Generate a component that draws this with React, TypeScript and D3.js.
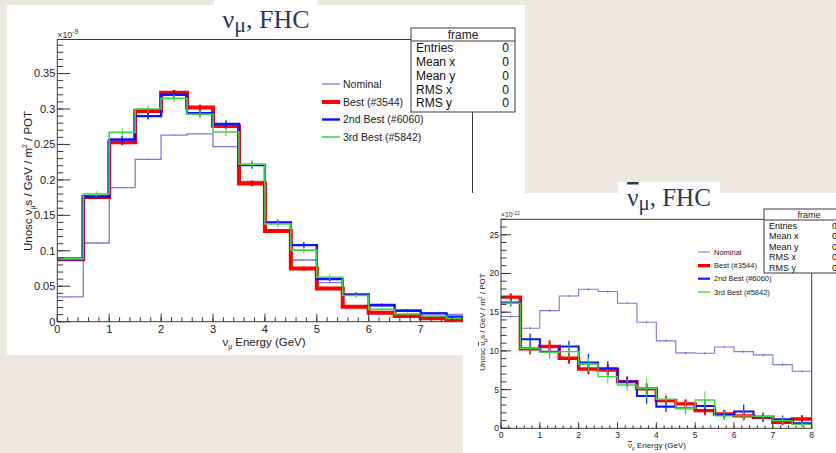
import React from 'react';
import * as d3 from 'd3';

// bin edges (GeV), shared by both plots
const binEdges = [0, 0.5, 1, 1.5, 2, 2.5, 3, 3.5, 4, 4.5, 5, 5.5, 6, 6.5, 7, 7.5, 8];

// numu FHC, units of 1e-9
const numuNominal = [0.035, 0.111, 0.189, 0.229, 0.263, 0.265, 0.247, 0.198, 0.14, 0.087, 0.055, 0.038, 0.022, 0.0165, 0.0127, 0.0104];
const numuBest = [0.088, 0.176, 0.253, 0.297, 0.323, 0.302, 0.276, 0.195, 0.128, 0.075, 0.047, 0.021, 0.0127, 0.008, 0.0047, 0.0033];
const numuBestErr = [0.002, 0.003, 0.004, 0.004, 0.004, 0.004, 0.004, 0.004, 0.003, 0.003, 0.002, 0.002, 0.001, 0.001, 0.001, 0.001];
const numu2nd = [0.088, 0.176, 0.257, 0.29, 0.32, 0.294, 0.279, 0.221, 0.14, 0.108, 0.06, 0.0386, 0.0236, 0.0155, 0.0118, 0.007];
const numu2ndErr = [0.002, 0.003, 0.005, 0.005, 0.005, 0.005, 0.005, 0.005, 0.004, 0.004, 0.003, 0.003, 0.002, 0.002, 0.001, 0.001];
const numu3rd = [0.0886, 0.18, 0.267, 0.3, 0.315, 0.2925, 0.2676, 0.222, 0.138, 0.101, 0.0627, 0.037, 0.0174, 0.0108, 0.008, 0.0047];
const numu3rdErr = [0.002, 0.004, 0.006, 0.006, 0.006, 0.006, 0.006, 0.006, 0.005, 0.005, 0.004, 0.003, 0.002, 0.002, 0.001, 0.001];
const numuNominalErr = [0.0005, 0.0008, 0.0008, 0.0008, 0.0008, 0.0008, 0.0008, 0.0008, 0.0008, 0.0008, 0.0006, 0.0005, 0.0004, 0.0004, 0.0003, 0.0003];

// anti-numu FHC, units of 1e-12
const anuNominal = [14.44, 12.93, 15.2, 17.1, 17.97, 17.67, 16.16, 13.7, 11.3, 9.74, 9.7, 10.5, 9.9, 9.48, 8.23, 7.37];
const anuNominalErr = [0.15, 0.15, 0.15, 0.15, 0.15, 0.15, 0.15, 0.15, 0.15, 0.15, 0.15, 0.15, 0.15, 0.15, 0.15, 0.15];
const anuBest = [16.94, 10.26, 10.56, 9.05, 7.67, 7.54, 6.03, 5.09, 3.58, 3.15, 2.28, 1.85, 1.6, 1.42, 0.78, 1.2];
const anuBestErr = [0.5, 0.7, 0.8, 0.7, 0.7, 0.7, 0.6, 0.7, 0.6, 0.6, 0.6, 0.5, 0.5, 0.5, 0.4, 0.5];
const anu2nd = [16.25, 11.5, 9.9, 10.56, 8.5, 7.76, 6.03, 4.18, 2.8, 2.59, 2.89, 1.72, 2.16, 1.42, 1.16, 0.65];
const anu2ndErr = [0.5, 0.75, 0.8, 0.75, 1.1, 0.9, 0.7, 1.0, 0.7, 0.7, 0.8, 0.6, 0.9, 0.6, 0.5, 0.4];
const anu3rd = [16.16, 10.34, 9.83, 9.9, 8.28, 6.68, 5.6, 5.17, 3.75, 2.59, 3.66, 1.6, 1.6, 1.5, 1.0, 0.5];
const anu3rdErr = [0.5, 0.7, 0.9, 0.9, 0.9, 0.9, 0.8, 1.3, 0.8, 0.8, 1.1, 0.6, 0.7, 0.6, 0.5, 0.4];

const legendLabels = ['Nominal', 'Best (#3544)', '2nd Best (#6060)', '3rd Best (#5842)'];
const statNames = ['Entries', 'Mean x', 'Mean y', 'RMS x', 'RMS y'];
const statValues = ['0', '0', '0', '0', '0'];

const numuYTicks = [0, 0.05, 0.1, 0.15, 0.2, 0.25, 0.3, 0.35];
const numuYLabels = ['0', '0.05', '0.1', '0.15', '0.2', '0.25', '0.3', '0.35'];
const numuXTicks = [0, 1, 2, 3, 4, 5, 6, 7];
const anuYTicks = [0, 5, 10, 15, 20, 25];
const anuXTicks = [0, 1, 2, 3, 4, 5, 6, 7, 8];

const BG = '#ece9e3';
const AX = '#3a3a3a';
const SANS = '"Liberation Sans", Arial, sans-serif';
const SERIF = '"Liberation Serif", "DejaVu Serif", serif';

// nu symbol, with an overline for the anti-neutrino
const Nu = ({ bar }) => (bar ? <tspan style={{ textDecoration: 'overline' }}>ν</tspan> : <tspan>ν</tspan>);

const Histo = ({ cfg }) => {
  const x = d3.scaleLinear().domain([0, 8]).range([cfg.left, cfg.right]);
  const y = d3.scaleLinear().domain([0, cfg.ymax]).range([cfg.bottom, cfg.top]);
  const line = d3.line().x(d => x(d[0])).y(d => y(d[1])).curve(d3.curveStepAfter);
  const step = vals => line([...vals.map((v, i) => [binEdges[i], v]), [binEdges[16], vals[15]]]);
  const minorY = d3.range(0, cfg.ymax + 1e-9, cfg.yMinor);
  const minorX = d3.range(0, 8.0001, 0.2);
  return (
    <g>
      {cfg.series.map((s, k) => (
        <g key={k}>
          <path d={step(s.vals)} fill="none" stroke={s.color} strokeWidth={s.w} opacity={s.op} />
          {s.vals.map((v, i) => {
            const cx = x((binEdges[i] + binEdges[i + 1]) / 2);
            return <line key={i} x1={cx} x2={cx} y1={y(Math.max(0, v - s.err[i]))} y2={y(v + s.err[i])}
              stroke={s.color} strokeWidth={Math.max(1, s.w * 0.6)} opacity={s.op} />;
          })}
        </g>
      ))}
      {/* frame */}
      <rect x={cfg.left} y={cfg.top} width={cfg.right - cfg.left} height={cfg.bottom - cfg.top} fill="none" stroke={AX} strokeWidth={1} />
      {minorY.map((t, i) => (
        <line key={'my' + i} x1={cfg.left} x2={cfg.left + cfg.minTick} y1={y(t)} y2={y(t)} stroke={AX} />
      ))}
      {cfg.yTicks.map((t, i) => (
        <g key={'y' + i}>
          <line x1={cfg.left} x2={cfg.left + cfg.majTick} y1={y(t)} y2={y(t)} stroke={AX} />
          <text x={cfg.left - 2} y={y(t)} dy="0.35em" textAnchor="end" fontSize={cfg.fs} fill="#222">{cfg.yLabels[i]}</text>
        </g>
      ))}
      {minorX.map((t, i) => (
        <line key={'mx' + i} x1={x(t)} x2={x(t)} y1={cfg.bottom} y2={cfg.bottom - cfg.xMin} stroke={AX} />
      ))}
      {cfg.xTicks.map((t, i) => (
        <g key={'x' + i}>
          <line x1={x(t)} x2={x(t)} y1={cfg.bottom} y2={cfg.bottom - cfg.xMaj} stroke={AX} />
          <text x={x(t)} y={cfg.bottom + cfg.xLabOff} textAnchor="middle" fontSize={cfg.fs} fill="#222">{String(t)}</text>
        </g>
      ))}
      <text x={cfg.left} y={cfg.top - 2} fontSize={cfg.fs * 0.8} fill="#333">
        ×10<tspan dy={-cfg.fs * 0.3} fontSize={cfg.fs * 0.6}>{cfg.exp}</tspan>
      </text>
      {/* axis titles */}
      <text x={cfg.xTitle[0]} y={cfg.xTitle[1]} textAnchor="middle" fontSize={cfg.tfs} fill="#222">
        <Nu bar={cfg.bar} /><tspan dy={cfg.tfs * 0.3} fontSize={cfg.tfs * 0.6}>μ</tspan><tspan dy={-cfg.tfs * 0.3}> Energy (GeV)</tspan>
      </text>
      <text transform={`translate(${cfg.yTitle[0]},${cfg.yTitle[1]}) rotate(-90)`} textAnchor="middle" fontSize={cfg.tfs} fill="#222">
        Unosc <Nu bar={cfg.bar} /><tspan dy={cfg.tfs * 0.3} fontSize={cfg.tfs * 0.6}>μ</tspan><tspan dy={-cfg.tfs * 0.3}>s / GeV / m</tspan>
        <tspan dy={-cfg.tfs * 0.4} fontSize={cfg.tfs * 0.6}>2</tspan><tspan dy={cfg.tfs * 0.4}> / POT</tspan>
      </text>
      {/* legend */}
      {cfg.series.map((s, k) => (
        <g key={'lg' + k}>
          <line x1={cfg.leg[0]} x2={cfg.leg[1]} y1={cfg.legY[k]} y2={cfg.legY[k]} stroke={s.color} strokeWidth={s.w} opacity={s.op} />
          <text x={cfg.leg[2]} y={cfg.legY[k]} dy="0.35em" fontSize={cfg.lfs} fill="#222">{legendLabels[k]}</text>
        </g>
      ))}
      {/* stat box */}
      <rect x={cfg.box[0]} y={cfg.box[1]} width={cfg.box[2]} height={cfg.box[3]} fill="#fff" stroke={AX} />
      <line x1={cfg.box[0]} x2={cfg.box[0] + cfg.box[2]} y1={cfg.box[1] + cfg.boxHead} y2={cfg.box[1] + cfg.boxHead} stroke={AX} />
      <text x={cfg.box[0] + cfg.box[2] * 0.5} y={cfg.box[1] + cfg.boxHead - 2.5} textAnchor="middle" fontSize={cfg.sfs} fill="#222">frame</text>
      {statNames.map((n, i) => {
        const ry = cfg.box[1] + cfg.boxHead + (i + 0.5) * cfg.rowH;
        return (
          <g key={'st' + i}>
            <text x={cfg.box[0] + 5} y={ry} dy="0.36em" fontSize={cfg.sfs} fill="#111">{n}</text>
            <text x={cfg.valX} y={ry} dy="0.36em" textAnchor={cfg.valAnchor} fontSize={cfg.sfs} fill="#111">{statValues[i]}</text>
          </g>
        );
      })}
    </g>
  );
};

const styles = (vals, errs, scale) => [
  { vals: vals[0], err: errs[0], color: '#5a5ad0', w: 1.3 * scale, op: 0.8 },
  { vals: vals[1], err: errs[1], color: '#ff0000', w: 4 * scale, op: 1 },
  { vals: vals[2], err: errs[2], color: '#0a14ff', w: 2.4 * scale, op: 1 },
  { vals: vals[3], err: errs[3], color: '#44d444', w: 1.6 * scale, op: 1 },
];

export default function App() {
  const numuCfg = {
    left: 57.3, right: 472.5, top: 39.5, bottom: 321.7, ymax: 0.398, yMinor: 0.01,
    yTicks: numuYTicks, yLabels: numuYLabels, xTicks: numuXTicks,
    majTick: 13, minTick: 6, xMaj: 8, xMin: 4.5, xLabOff: 11.5, fs: 11, tfs: 11.5, lfs: 10.5, sfs: 12,
    exp: '-9', bar: false, xTitle: [264, 346], yTitle: [32, 181],
    leg: [322, 340, 343], legY: [84, 102, 119.5, 137],
    box: [411, 28, 104, 84], boxHead: 13, rowH: 13.8, valX: 509, valAnchor: 'end',
    series: styles([numuNominal, numuBest, numu2nd, numu3rd], [numuNominalErr, numuBestErr, numu2ndErr, numu3rdErr], 1),
  };
  const anuCfg = {
    left: 501, right: 811.7, top: 219.3, bottom: 428.3, ymax: 27, yMinor: 1,
    yTicks: anuYTicks, yLabels: anuYTicks.map(String), xTicks: anuXTicks,
    majTick: 10, minTick: 5.5, xMaj: 6, xMin: 3, xLabOff: 10, fs: 8.5, tfs: 8, lfs: 7.5, sfs: 9,
    exp: '-12', bar: true, xTitle: [657, 448], yTitle: [485, 322],
    leg: [698, 710, 714], legY: [252, 265.7, 278.7, 292],
    box: [764, 209, 90, 64], boxHead: 11, rowH: 10.6, valX: 832, valAnchor: 'start',
    series: styles([anuNominal, anuBest, anu2nd, anu3rd], [anuNominalErr, anuBestErr, anu2ndErr, anu3rdErr], 0.85),
  };
  return (
    <svg width={836} height={453} style={{ position: 'absolute', left: 0, top: 0, display: 'block' }} fontFamily={SANS}>
      <rect x={0} y={0} width={836} height={453} fill={BG} />
      {/* first screenshot */}
      <rect x={214} y={0} width={103} height={10} fill="#fff" />
      <rect x={7} y={5} width={518} height={350} fill="#fff" />
      <text x={266} y={28} textAnchor="middle" fontFamily={SERIF} fontSize={26} fill="#2c3a58">
        ν<tspan dy={4} fontSize={22}>μ</tspan><tspan dy={-4}>, FHC</tspan>
      </text>
      <Histo cfg={numuCfg} />
      {/* second screenshot */}
      <rect x={618} y={182} width={102} height={14} fill="#fff" />
      <rect x={463} y={193} width={373} height={260} fill="#fff" />
      <text x={669} y={206} textAnchor="middle" fontFamily={SERIF} fontSize={25} fill="#2c3a58">
        <Nu bar={true} /><tspan dy={4} fontSize={21}>μ</tspan><tspan dy={-4}>, FHC</tspan>
      </text>
      <Histo cfg={anuCfg} />
    </svg>
  );
}
